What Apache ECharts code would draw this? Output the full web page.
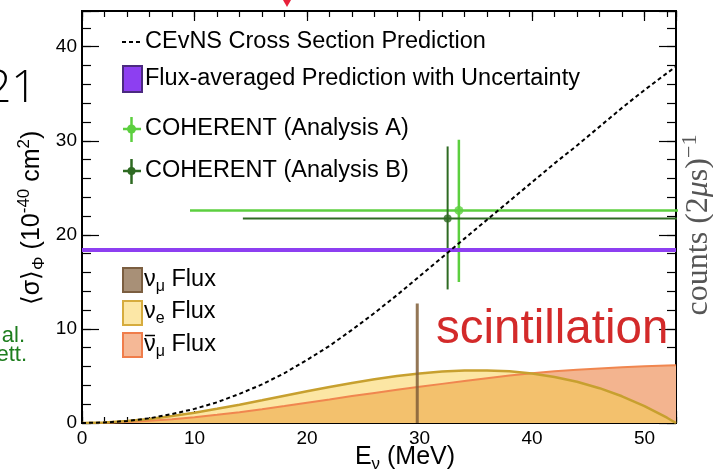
<!DOCTYPE html>
<html>
<head>
<meta charset="utf-8">
<script src="https://cdn.jsdelivr.net/npm/echarts@6/dist/echarts.min.js"></script>
<style>
  html, body { margin: 0; padding: 0; background: #fff; }
  #chart { width: 713px; height: 474px; }
</style>
</head>
<body>
<div id="chart"></div>
<script>
// Neutrino energy grid (MeV) shared by the cross-section and flux curves
const energyMeV = [0, 2, 4, 6, 8, 10, 12, 14, 16, 18, 20, 22, 24, 26, 28, 30, 32, 34, 36, 38, 40, 42, 44, 46, 48, 50, 52, 52.8];
// CEvNS cross section on CsI (10^-40 cm^2)
const cevnsPrediction = [0, 0.05, 0.22, 0.5, 0.95, 1.5, 2.2, 3.1, 4.1, 5.3, 6.7, 8.2, 9.9, 11.7, 13.6, 15.6, 17.6, 19.6, 21.6, 23.6, 25.6, 27.6, 29.5, 31.5, 33.5, 35.4, 37.2, 37.9];
// Delayed Michel spectra (arbitrary units on the same axis)
const nuEFlux = [0, 0.05, 0.2, 0.43, 0.74, 1.1, 1.51, 1.95, 2.42, 2.9, 3.37, 3.83, 4.26, 4.65, 4.99, 5.27, 5.47, 5.58, 5.59, 5.49, 5.26, 4.89, 4.38, 3.7, 2.84, 1.8, 0.56, 0];
const nuMuBarFlux = [0, 0.03, 0.11, 0.24, 0.41, 0.62, 0.87, 1.15, 1.46, 1.8, 2.15, 2.5, 2.86, 3.2, 3.53, 3.85, 4.16, 4.47, 4.76, 5.05, 5.3, 5.5, 5.66, 5.8, 5.93, 6.04, 6.12, 6.15];
// Prompt monoenergetic nu_mu line: [energy, height]
const nuMuLine = [29.8, 12.7];
// Flux-averaged prediction
const fluxAveraged = [18.4];
// COHERENT measurements: [energy, sigma], energy range, sigma range
const analysisA = [33.5, 22.6];
const analysisAEnergyRange = [9.6, 57.4];
const analysisASigmaRange = [15.0, 30.1];
const analysisB = [32.5, 21.75];
const analysisBEnergyRange = [14.3, 55.0];
const analysisBSigmaRange = [14.2, 29.4];
// Axis tick labels
const xTickLabels = [0, 10, 20, 30, 40, 50];
const yTickLabels = [0, 10, 20, 30, 40];
const xRange = [0, 52.8];
const yRange = [0, 43.8];

const pairs = (xs, ys) => xs.map((x, i) => [x, ys[i]]);
const overlapFlux = nuEFlux.map((v, i) => Math.min(v, nuMuBarFlux[i]));

const FONT = 'Liberation Sans, Arial, Helvetica, sans-serif';

function xAxisDef(position, interval, tickLen, labels) {
  return {
    type: 'value', position, min: xRange[0], max: xRange[1], interval,
    axisLine: { show: true, onZero: false, lineStyle: { color: '#000', width: 2 } },
    axisTick: { show: true, inside: true, length: tickLen, lineStyle: { color: '#000', width: 1.2 } },
    axisLabel: labels ? {
      show: true, margin: 6, color: '#000', fontSize: 19, fontFamily: FONT,
      formatter: v => xTickLabels.includes(v) ? String(v) : ''
    } : { show: false },
    splitLine: { show: false }
  };
}
function yAxisDef(position, interval, tickLen, labels) {
  return {
    type: 'value', position, min: yRange[0], max: yRange[1], interval,
    axisLine: { show: true, onZero: false, lineStyle: { color: '#000', width: 2 } },
    axisTick: { show: true, inside: true, length: tickLen, lineStyle: { color: '#000', width: 1.2 } },
    axisLabel: labels ? {
      show: true, margin: 5, color: '#000', fontSize: 19, fontFamily: FONT,
      formatter: v => yTickLabels.includes(v) ? String(v) : ''
    } : { show: false },
    splitLine: { show: false }
  };
}

function lineSeries(data, color, width, z, extra) {
  return Object.assign({
    type: 'line', data, symbol: 'none', silent: true, z,
    lineStyle: { color, width }, clip: true
  }, extra || {});
}
function areaSeries(data, color, z) {
  return {
    type: 'line', data, symbol: 'none', silent: true, z, clip: true,
    lineStyle: { width: 0 }, areaStyle: { color, opacity: 1 }
  };
}

const colA = '#5ccf3f';
const colB = '#2e6a22';
const purple = '#8d3ff1';

const series = [
  areaSeries(pairs(energyMeV, nuMuBarFlux), '#f3b48f', 1),
  areaSeries(pairs(energyMeV, nuEFlux), '#fce6a4', 1),
  areaSeries(pairs(energyMeV, overlapFlux), '#f3c16d', 1),
  lineSeries(pairs(energyMeV, nuMuBarFlux), '#f0864f', 2, 2),
  lineSeries(pairs(energyMeV, nuEFlux), '#c7a02f', 2.5, 2),
  lineSeries([[nuMuLine[0], 0], [nuMuLine[0], nuMuLine[1]]], 'rgba(128,94,56,0.85)', 3, 3),
  lineSeries([[analysisAEnergyRange[0], analysisA[1]], [analysisAEnergyRange[1], analysisA[1]]], colA, 2.5, 4),
  lineSeries([[analysisA[0], analysisASigmaRange[0]], [analysisA[0], analysisASigmaRange[1]]], colA, 2.5, 4),
  lineSeries([[analysisBEnergyRange[0], analysisB[1]], [analysisBEnergyRange[1], analysisB[1]]], colB, 2, 4),
  lineSeries([[analysisB[0], analysisBSigmaRange[0]], [analysisB[0], analysisBSigmaRange[1]]], colB, 2, 4),
  { type: 'scatter', data: [analysisA], symbol: 'circle', symbolSize: 9, itemStyle: { color: colA }, z: 5, silent: true },
  { type: 'scatter', data: [analysisB], symbol: 'circle', symbolSize: 8, itemStyle: { color: colB }, z: 5, silent: true },
  lineSeries([[xRange[0], fluxAveraged[0]], [xRange[1], fluxAveraged[0]]], purple, 4, 6),
  lineSeries(pairs(energyMeV, cevnsPrediction), '#000', 2, 7, { lineStyle: { color: '#000', width: 2, type: [4, 3] } })
];

// ---- annotation helpers ----
function txt(x, y, text, o) {
  o = o || {};
  return {
    type: 'text', x, y, rotation: o.rotation || 0, z: 100, silent: true,
    style: {
      text, fill: o.color || '#000', fontSize: o.size || 23.5, fontFamily: o.family || FONT,
      fontWeight: o.weight || 'normal',
      align: o.align || 'left', verticalAlign: o.valign || 'middle',
      textAlign: o.align || 'left', textVerticalAlign: o.valign || 'middle',
      rich: o.rich
    }
  };
}
function seg(x1, y1, x2, y2, color, w, dash) {
  return { type: 'line', z: 100, silent: true, shape: { x1, y1, x2, y2 },
    style: { stroke: color, lineWidth: w, lineDash: dash || null } };
}
function box(x, y, w, h, fill, stroke) {
  return { type: 'rect', z: 100, silent: true, shape: { x, y, width: w, height: h },
    style: { fill, stroke, lineWidth: 2 } };
}

const legRich = {
  m: { fontSize: 23.5, fontFamily: FONT, lineHeight: 30, fill: '#000' },
  s: { fontSize: 16, fontFamily: FONT, lineHeight: 14, verticalAlign: 'bottom', fill: '#000' }
};
const titleRich = {
  m: { fontSize: 25, fontFamily: FONT, lineHeight: 32, fill: '#000' },
  s: { fontSize: 17, fontFamily: FONT, lineHeight: 15, verticalAlign: 'bottom', fill: '#000' },
  p: { fontSize: 17, fontFamily: FONT, lineHeight: 15, verticalAlign: 'top', fill: '#000' }
};
const serifRich = {
  m: { fontSize: 32, fontFamily: 'Liberation Serif, DejaVu Serif, serif', lineHeight: 40, fill: '#555' },
  i: { fontSize: 32, fontFamily: 'Liberation Serif, DejaVu Serif, serif', fontStyle: 'italic', lineHeight: 40, fill: '#555' },
  p: { fontSize: 22, fontFamily: 'Liberation Serif, DejaVu Serif, serif', lineHeight: 20, verticalAlign: 'top', fill: '#555' }
};

const graphic = [
  // upper legend
  seg(122, 42, 141, 42, '#000', 2, [4, 3]),
  txt(145, 42, 'CEvNS Cross Section Prediction'),
  box(123, 66, 19, 26, purple, '#4b2a80'),
  txt(145, 79, 'Flux-averaged Prediction with Uncertainty'),
  seg(123, 129, 141, 129, colA, 2.5), seg(131.5, 117, 131.5, 142, colA, 2.5),
  { type: 'circle', z: 101, silent: true, shape: { cx: 131.5, cy: 129, r: 4.5 }, style: { fill: colA } },
  txt(145, 129, 'COHERENT (Analysis A)'),
  seg(123, 171, 141, 171, colB, 2.5), seg(131.5, 159, 131.5, 184, colB, 2.5),
  { type: 'circle', z: 101, silent: true, shape: { cx: 131.5, cy: 171, r: 4 }, style: { fill: colB } },
  txt(145, 171, 'COHERENT (Analysis B)'),
  // flux legend
  box(123, 268, 19, 24, '#a89077', '#7b5e40'),
  txt(144, 280, '{m|ν}{s|μ}{m| Flux}', { rich: legRich }),
  box(123, 301, 19, 24, '#fce7a6', '#d6ac3e'),
  txt(144, 312, '{m|ν}{s|e}{m| Flux}', { rich: legRich }),
  box(123, 333, 19, 24, '#f5b896', '#f07d4b'),
  txt(144, 345, '{m|ν}{s|μ}{m| Flux}', { rich: legRich }),
  seg(145, 335.5, 155, 335.5, '#000', 1.5),
  // axis titles
  txt(405, 457, '{m|E}{s|ν}{m| (MeV)}', { align: 'center', rich: titleRich }),
  txt(32, 218, '{m|⟨σ⟩}{s|Φ}{m| (10}{p|-40}{m| cm}{p|2}{m|)}', { align: 'center', rotation: Math.PI / 2, rich: titleRich }),
  // scintillation annotation
  txt(436, 330, 'scintillation', { size: 47.5, color: '#d32a2a' }),
  // neighbouring figure axis title
  txt(699, 225, '{m|counts (2}{i|μ}{m|s)}{p|−1}', { align: 'center', rotation: Math.PI / 2, rich: serifRich }),
  // slide fragments
  txt(37, 89, '21', { size: 45, align: 'right', color: '#000', family: 'Open Sans, Lato, sans-serif', weight: 300 }),
  txt(25, 336, 'al.', { size: 22, align: 'right', color: '#1d7d1d' }),
  txt(27, 355, 'ett.', { size: 22, align: 'right', color: '#1d7d1d' }),
  { type: 'polygon', z: 100, silent: true, shape: { points: [[283, 0], [291, 0], [287, 7]] }, style: { fill: '#e8203a' } }
];

const chart = echarts.init(document.getElementById('chart'), null, { renderer: 'canvas' });
chart.setOption({
  animation: false,
  backgroundColor: '#fff',
  grid: { left: 82, top: 11, right: 37, bottom: 51, outerBoundsMode: 'none' },
  xAxis: [
    xAxisDef('bottom', 10, 12, true),
    xAxisDef('bottom', 2, 6, false),
    xAxisDef('top', 10, 10, false),
    xAxisDef('top', 2, 6, false)
  ],
  yAxis: [
    yAxisDef('left', 10, 17, true),
    yAxisDef('left', 2, 9, false),
    yAxisDef('right', 10, 17, false),
    yAxisDef('right', 2, 9, false)
  ],
  series,
  graphic
});
</script>
</body>
</html>
